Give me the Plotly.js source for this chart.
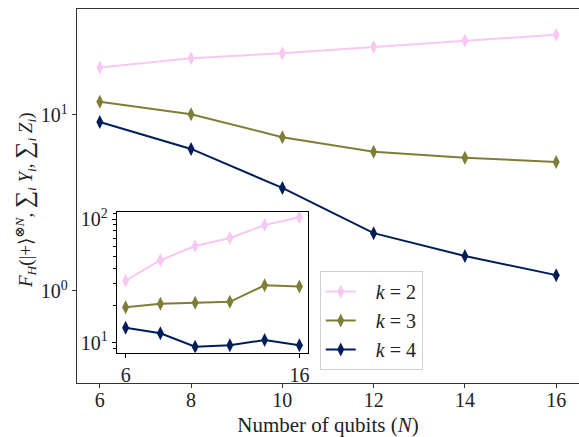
<!DOCTYPE html>
<html>
<head>
<meta charset="utf-8">
<script src="https://cdn.plot.ly/plotly-3.0.1.min.js"></script>
<style>html,body{margin:0;padding:0;background:#fff;}#chart{width:579px;height:437px;}</style>
</head>
<body>
<div id="chart"></div>
<script>
const qubits = [6, 8, 10, 12, 14, 16];
const seriesNames = ["\u00a0\u00a0\u00a0<i>k</i> = 2", "\u00a0\u00a0\u00a0<i>k</i> = 3", "\u00a0\u00a0\u00a0<i>k</i> = 4"];
const mainK2 = [18.6, 21.0, 22.4, 24.3, 26.5, 28.6];
const mainK3 = [11.9, 10.1, 7.47, 6.18, 5.71, 5.41];
const mainK4 = [9.12, 6.41, 3.85, 2.13, 1.58, 1.23];
const insetK2 = [31.7, 46.4, 60.5, 70.2, 89.4, 103.2];
const insetK3 = [19.3, 20.6, 21.0, 21.4, 29.1, 28.4];
const insetK4 = [13.2, 11.9, 9.29, 9.53, 10.5, 9.53];
const colors = ["#f8c8f3", "#7e7e36", "#001d5a"];

const serif = "Liberation Serif, DejaVu Serif, serif";
const mainSets = [mainK2, mainK3, mainK4];
const insetSets = [insetK2, insetK3, insetK4];
const traces = [];
mainSets.forEach((ys, i) => {
  traces.push({
    x: qubits, y: ys, name: seriesNames[i], type: "scatter", mode: "lines+markers",
    xaxis: "x", yaxis: "y",
    line: {color: colors[i], width: 2},
    marker: {symbol: "diamond-tall", size: 10, color: colors[i]}
  });
});
insetSets.forEach((ys, i) => {
  traces.push({
    x: qubits, y: ys, name: seriesNames[i], type: "scatter", mode: "lines+markers",
    xaxis: "x2", yaxis: "y2", showlegend: false,
    line: {color: colors[i], width: 2},
    marker: {symbol: "diamond-tall", size: 10, color: colors[i]}
  });
});

const W = 502.5, H = 374;
const sig = '<span style="font-size:24px">∑</span>';
const layout = {
  width: 579, height: 437,
  margin: {l: 77, r: 0, t: 9, b: 54},
  paper_bgcolor: "#fff", plot_bgcolor: "#fff",
  font: {family: serif, size: 20, color: "#222"},
  showlegend: true,
  legend: {
    x: (320 - 77) / W, y: (383 - 271) / H, xanchor: "left", yanchor: "top",
    bgcolor: "rgba(255,255,255,0.9)", bordercolor: "#d0d0d0", borderwidth: 1,
    font: {family: serif, size: 20, color: "#222"}, tracegroupgap: 0
  },
  xaxis: {
    domain: [0, 1], range: [5.5, 16.5], tickvals: [6, 8, 10, 12, 14, 16],
    ticks: "outside", ticklen: 4, tickcolor: "#333", showgrid: false, zeroline: false,
    showline: true, linecolor: "#333", linewidth: 1.2, mirror: true,
    ticklabelstandoff: -5,
    tickfont: {family: serif, size: 20, color: "#222"},
    title: {text: "Number of qubits (<i>N</i>)", font: {family: serif, size: 21, color: "#222"}, standoff: 8}
  },
  yaxis: {
    domain: [0, 1], type: "log", range: [-0.523, 1.602],
    tickvals: [1, 10], ticktext: ["10<sup>0</sup>", "10<sup>1</sup>"],
    ticks: "outside", ticklen: 4, tickcolor: "#333", showgrid: false, zeroline: false,
    showline: true, linecolor: "#333", linewidth: 1.2, mirror: true,
    tickfont: {family: serif, size: 20, color: "#222"}
  },
  xaxis2: {
    domain: [(117 - 77) / W, (308.3 - 77) / W], anchor: "y2", range: [5.5, 16.5],
    tickvals: [6, 16], ticks: "outside", ticklen: 4, tickcolor: "#000",
    showgrid: false, zeroline: false, showline: true, linecolor: "#000", linewidth: 1.2, mirror: true,
    tickfont: {family: serif, size: 20, color: "#222"}
  },
  yaxis2: {
    domain: [(383 - 352.7) / H, (383 - 211.7) / H], anchor: "x2", type: "log", range: [0.919, 2.059],
    tickvals: [10, 100], ticktext: ["10<sup>1</sup>", "10<sup>2</sup>"],
    ticks: "outside", ticklen: 4, tickcolor: "#000",
    minor: {ticks: "outside", ticklen: 2.5, tickcolor: "#000", tickvals: [9, 20, 30, 40, 50, 60, 70, 80, 90, 110], showgrid: false},
    showgrid: false, zeroline: false, showline: true, linecolor: "#000", linewidth: 1.2, mirror: true,
    tickfont: {family: serif, size: 20, color: "#222"}
  },
  annotations: [{
    xref: "paper", yref: "paper", x: (25 - 77) / W, y: (383 - 200) / H,
    xanchor: "center", yanchor: "middle", textangle: -90, showarrow: false,
    text: "<i>F</i><sub><i>H</i></sub>(|+⟩<sup>⊗<i>N</i></sup>, " + sig + "<sub><i>i</i></sub> <i>Y</i><sub><i>i</i></sub>, " + sig + "<sub><i>i</i></sub> <i>Z</i><sub><i>i</i></sub>)",
    font: {family: serif, size: 19, color: "#222"}
  }]
};

Plotly.newPlot("chart", traces, layout, {displayModeBar: false, staticPlot: true});
</script>
</body>
</html>
